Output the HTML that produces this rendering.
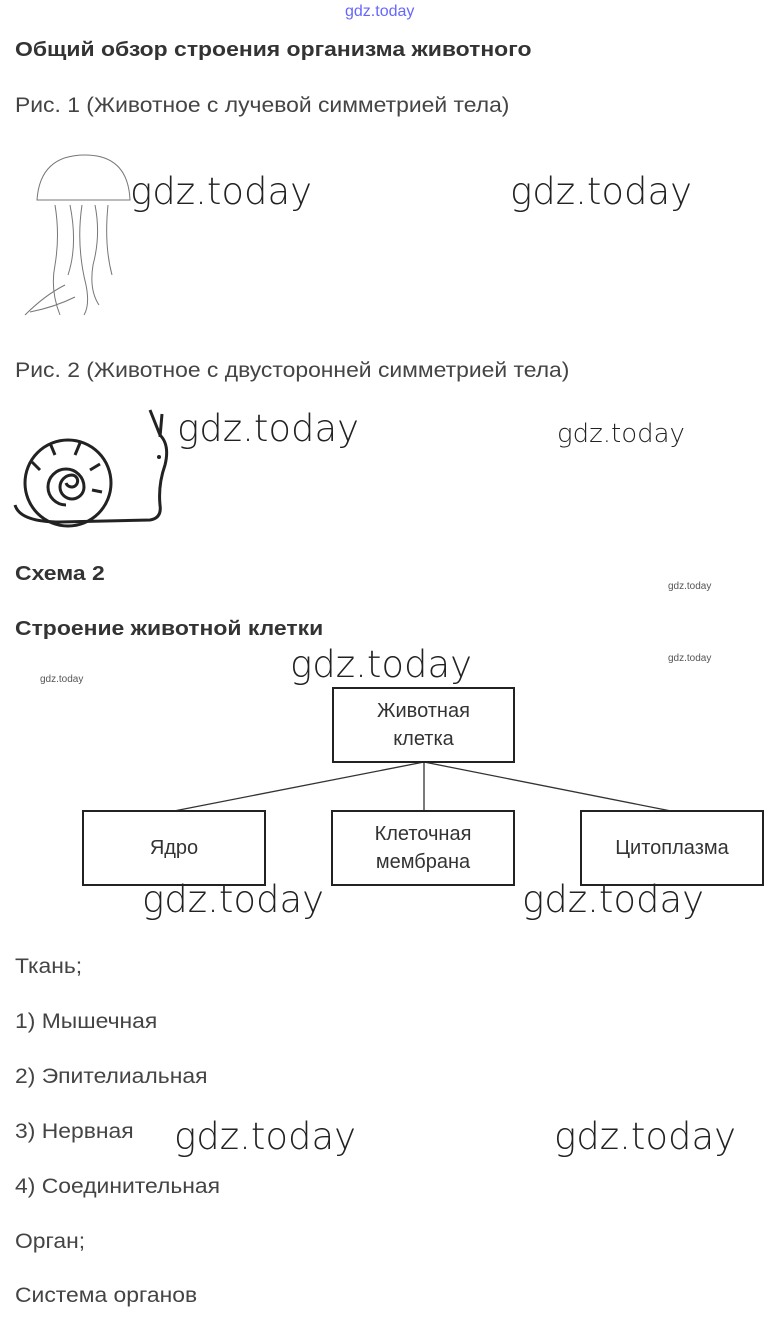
<!DOCTYPE html>
<html><head><meta charset="utf-8"><style>
body{margin:0;width:774px;height:1323px;background:#fff;position:relative;overflow:hidden;font-family:"Liberation Sans",sans-serif;color:#444}
.t{position:absolute;white-space:nowrap;font-size:21px;transform-origin:0 0;transform:scaleX(1.09)}
.b{font-weight:bold;font-size:20px;color:#333;transform:scaleX(1.147)}
.w{position:absolute;white-space:nowrap;font-size:37px;color:#222;font-family:"DejaVu Sans","Liberation Sans",sans-serif;font-weight:200}
.ws{position:absolute;white-space:nowrap;font-size:10px;color:#555}
.box{position:absolute;border:2px solid #222;box-sizing:border-box;display:flex;align-items:center;justify-content:center;text-align:center;font-size:20px;line-height:28px;color:#333}
</style></head><body>
<div class="ws" style="left:345px;top:3px;font-size:16px;color:#66f">gdz.today</div>
<div class="t b" style="left:15px;top:39px">Общий обзор строения организма животного</div>
<div class="t" style="left:15px;top:94px">Рис. 1 (Животное с лучевой симметрией тела)</div>
<svg style="position:absolute;left:0;top:0" width="774" height="1323">
<g fill="none" stroke="#777" stroke-width="1">
<path d="M37 200 Q40 155 85 155 Q128 155 130 200 Z"/>
<path d="M55 205 q5 30 0 60 q-5 25 5 50 M70 205 q8 40 -2 70 M82 205 q-6 40 4 80 q4 20 -2 30 M95 205 q6 30 -2 60 q-4 25 6 40 M108 205 q-4 40 4 70"/>
<path d="M25 315 q20 -20 40 -30 M30 312 q25 -5 45 -15"/>
</g>
<g fill="none" stroke="#222" stroke-width="3">
<path d="M15 505 Q20 522 60 522 L150 520 Q162 518 160 505 Q158 485 165 465 Q170 445 160 435 L150 410 M160 437 L162 414"/>
<circle cx="68" cy="483" r="43"/>
<path d="M66 505 a18 18 0 1 1 18 -18 a12 12 0 1 1 -12 -12 a6 6 0 1 1 -6 8"/>
<path d="M40 470 l-8 -8 M55 455 l-5 -12 M75 455 l5 -12 M90 470 l10 -6 M92 490 l10 2"/>
</g>
<circle cx="159" cy="457" r="2" fill="#222"/>
<g stroke="#333" stroke-width="1.3">
<line x1="424" y1="762" x2="174" y2="811"/>
<line x1="424" y1="762" x2="424" y2="811"/>
<line x1="424" y1="762" x2="671" y2="811"/>
</g>
</svg>
<div class="w" style="left:130px;top:170px">gdz.today</div>
<div class="w" style="left:510px;top:170px">gdz.today</div>
<div class="t" style="left:15px;top:359px">Рис. 2 (Животное с двусторонней симметрией тела)</div>
<div class="w" style="left:177px;top:407px">gdz.today</div>
<div class="w" style="left:557px;top:419px;font-size:26px">gdz.today</div>
<div class="t b" style="left:15px;top:563px">Схема 2</div>
<div class="ws" style="left:668px;top:581px">gdz.today</div>
<div class="t b" style="left:15px;top:618px">Строение животной клетки</div>
<div class="ws" style="left:668px;top:653px">gdz.today</div>
<div class="ws" style="left:40px;top:674px">gdz.today</div>
<div class="w" style="left:290px;top:643px">gdz.today</div>
<div class="box" style="left:332px;top:687px;width:183px;height:76px">Животная<br>клетка</div>
<div class="box" style="left:82px;top:810px;width:184px;height:76px">Ядро</div>
<div class="box" style="left:331px;top:810px;width:184px;height:76px">Клеточная<br>мембрана</div>
<div class="box" style="left:580px;top:810px;width:184px;height:76px">Цитоплазма</div>
<div class="w" style="left:142px;top:878px">gdz.today</div>
<div class="w" style="left:522px;top:878px">gdz.today</div>
<div class="t" style="left:15px;top:955px">Ткань;</div>
<div class="t" style="left:15px;top:1010px">1) Мышечная</div>
<div class="t" style="left:15px;top:1065px">2) Эпителиальная</div>
<div class="t" style="left:15px;top:1120px">3) Нервная</div>
<div class="w" style="left:174px;top:1115px">gdz.today</div>
<div class="w" style="left:554px;top:1115px">gdz.today</div>
<div class="t" style="left:15px;top:1175px">4) Соединительная</div>
<div class="t" style="left:15px;top:1230px">Орган;</div>
<div class="t" style="left:15px;top:1284px">Система органов</div>
</body></html>
